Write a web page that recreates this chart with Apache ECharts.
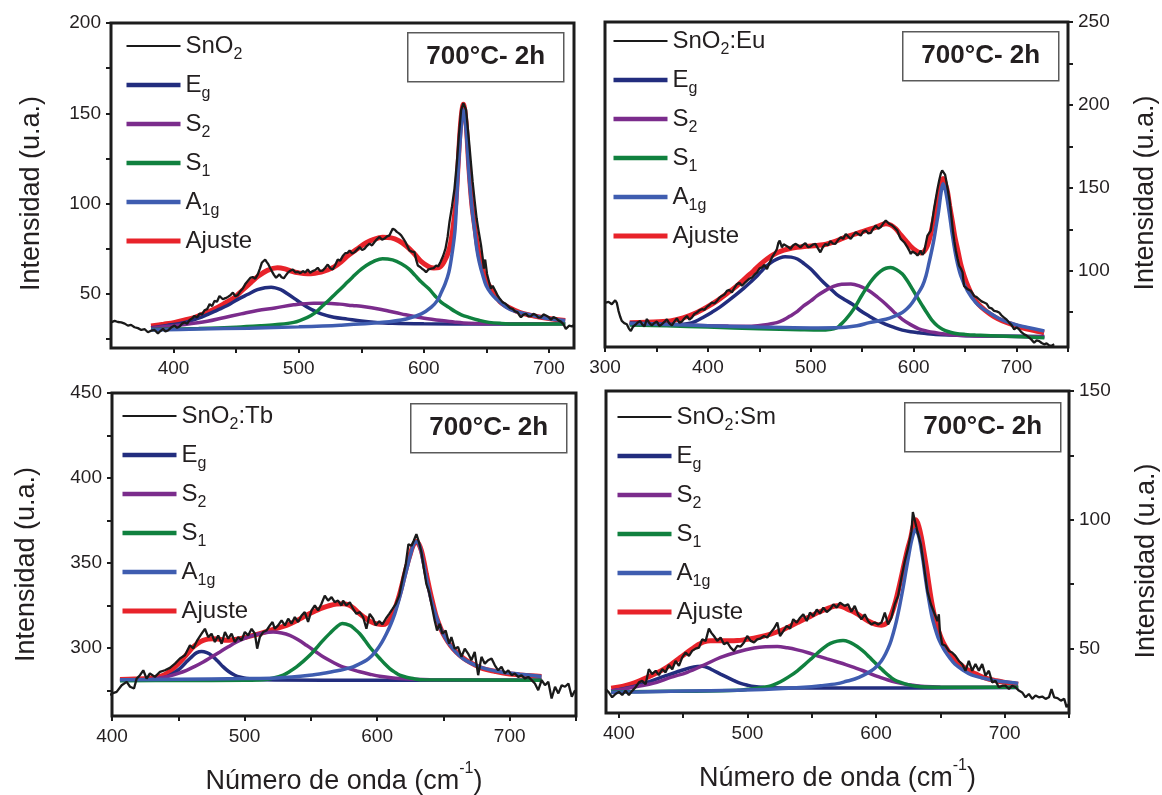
<!DOCTYPE html>
<html>
<head>
<meta charset="utf-8">
<script src="https://cdn.jsdelivr.net/npm/echarts@6/dist/echarts.min.js"></script>
<style>
  html, body { margin: 0; padding: 0; background: #ffffff; }
  #chart { width: 1162px; height: 795px; }
</style>
</head>
<body>
<div id="chart"></div>
<script>
// ---------- Raman spectra and peak deconvolution, 700 °C - 2 h ----------

// Series names
const sampleNames = ['SnO2', 'SnO2:Eu', 'SnO2:Tb', 'SnO2:Sm'];
const componentNames = ['Eg', 'S2', 'S1', 'A1g', 'Ajuste'];
const annotationText = '700°C- 2h';
const yTitle = 'Intensidad (u.a.)';
const xTitle = '{m|Número de onda (cm}{sup|-1}{m|)}';

// Axis tick labels / tick positions (cm-1 and u.a.)
const xLabelsP1 = [400, 500, 600, 700];
const xTicksP1 = [400, 450, 500, 550, 600, 650, 700];
const yLabelsP1 = [50, 100, 150, 200];
const yTicksP1 = [25, 50, 75, 100, 125, 150, 175, 200];

const xLabelsP2 = [300, 400, 500, 600, 700];
const xTicksP2 = [300, 350, 400, 450, 500, 550, 600, 650, 700, 750];
const yLabelsP2 = [100, 150, 200, 250];
const yTicksP2 = [75, 100, 125, 150, 175, 200, 225, 250];

const xLabelsP3 = [400, 500, 600, 700];
const xTicksP3 = [400, 450, 500, 550, 600, 650, 700, 750];
const yLabelsP3 = [300, 350, 400, 450];
const yTicksP3 = [275, 300, 325, 350, 375, 400, 425, 450];

const xLabelsP4 = [400, 500, 600, 700];
const xTicksP4 = [400, 450, 500, 550, 600, 650, 700, 750];
const yLabelsP4 = [50, 100, 150];
const yTicksP4 = [50, 75, 100, 125, 150];

// ---------- SnO2 ----------
const snO2Raw = [[350,34.2],[352.9,35],[355.5,34.4],[358.2,34.2],[361,33.5],[363.5,32.4],[366,32.8],[368.8,31.5],[371.5,31],[374.2,30],[377,30.4],[379.5,28.7],[382,29.6],[384.8,30],[387.5,28.1],[389.5,29.4],[391.5,30.6],[393.5,29.2],[395.5,29.7],[398,31.3],[400.8,32.4],[402.8,31.2],[404.8,31.9],[406.8,33.5],[408.8,34.2],[410.8,33.4],[412.8,35.5],[414.8,36.4],[416.8,37.8],[418.8,36.9],[420.8,39.1],[422.8,38.6],[424.7,40.9],[426.8,41.5],[428.8,44.3],[430.8,43.2],[432.7,46.1],[434.7,45.6],[436.7,48.8],[439.4,47],[441.4,47.6],[443.4,48.3],[445.4,49.2],[447.4,50.7],[449.4,48.6],[451.4,49.4],[453.4,51.5],[455.4,53],[457.3,55.4],[459.3,57.1],[461.3,58.8],[463.3,59.3],[465.3,58.4],[467.3,60.8],[469,64],[470.5,67.2],[471.8,68.2],[473.2,69],[474.5,67.6],[475.8,66.3],[477.2,64.3],[478.5,62.6],[480.2,60.5],[481.9,58.9],[483.3,59.7],[484.6,60.8],[486.3,59.2],[488.1,58.6],[489.7,60.2],[491.3,61.7],[493.3,62.8],[495.3,63.5],[497.3,61.9],[499.3,62.2],[501.3,61.4],[503.3,62.6],[505.2,61.8],[507.2,63.5],[509.2,61.7],[511.2,62.6],[513.2,63.2],[515.2,64.4],[517.2,62.7],[519.2,62.9],[521.2,64.5],[523.2,66.2],[525.2,64.2],[527.2,63.5],[529.2,66],[531.2,69],[533.2,68.4],[535.2,70.9],[537.2,72.5],[539.1,72.7],[540.7,74],[542.7,72.3],[544.7,73.1],[546.7,74.5],[548.7,75.9],[550.7,74.2],[552.6,75],[554.6,76.6],[556.6,77.8],[558.6,76.8],[560.6,78.7],[562.6,80.3],[564.6,81.5],[566.6,79.9],[568.6,80.6],[570.6,81.8],[572.6,82.4],[574,84.5],[575.2,86.1],[576.8,85.5],[578.4,84.3],[580.2,83.5],[581.9,82.4],[583.6,80.6],[585.3,78.7],[587,76.2],[588.5,74],[590.5,73.4],[592.5,73.1],[594,68.5],[595.2,65.7],[597,64.9],[598.6,63.9],[600.2,63.1],[601.8,62],[603.8,63.6],[605.8,63.9],[607.8,64.2],[609.8,65.7],[611.5,65.2],[613.3,67.6],[615.3,70.8],[617.3,75],[619,81.5],[620.5,89.8],[622.5,98.4],[624.5,108.3],[626.3,122],[628,137.9],[629.8,151.8],[631.6,155.6],[633.8,151.8],[635.1,142.1],[636.4,132.4],[637.7,122],[639,112],[640.6,101.5],[642.2,91.7],[644,83.8],[645.7,76.9],[647,70],[648,64],[649,69],[650.5,61],[652,57],[653.6,52.8],[655,54.5],[656.3,53.7],[657.6,51],[658.9,49.1],[660.9,47.1],[662.9,45.4],[664.9,44.7],[666.9,43.5],[668.9,42.1],[670.9,41.7],[672.9,40.3],[674.9,39.8],[676.2,38.3],[677.6,37],[679.6,38.5],[681.6,38.9],[683.6,37.5],[685.6,37.6],[687.6,38.9],[689.6,38.3],[691.6,36.8],[693.6,37],[695.6,38.6],[697.6,38],[699.6,37.2],[701.6,35.7],[703.6,37.1],[705.5,36.5],[707.5,35.3],[709.5,34.6],[711.5,33.2],[713.5,30.6],[715,31.5],[716.2,32.4],[718.4,31.9],[720,32.8]];
const snO2Eg = [[382,31.2],[395,32.5],[409,34.2],[420,36.5],[427,38.5],[435,41],[443,43.5],[451,46.8],[459,49.6],[467,52.3],[473,53.4],[478,53.7],[486,52.2],[491,50],[497,47.2],[502,44.8],[507,42.6],[513,40.4],[518,38.9],[528,37],[539,36],[550,35],[560,34.3],[575,33.7],[600,33.4],[650,33.3],[713,33.5]];
const snO2S2 = [[382,31],[395,32],[409,33],[427,34.8],[440,36.8],[454,38.9],[467,40.8],[481,42.2],[496,43.9],[512,44.8],[522,44.8],[533,44.3],[543,43.5],[550,43.1],[566,41.3],[582,38.9],[598,36.7],[614,35.2],[625,34.3],[636,33.7],[660,33.4],[713,33.4]];
const snO2S1 = [[382,30.3],[420,30.8],[450,31.5],[470,32.3],[481,32.9],[496,34.2],[507,37],[513,39.5],[518,42.6],[523,45.7],[528,49.1],[533,52.4],[539,56.5],[543,59.2],[548,62.5],[554,65.7],[560,68],[567,69.5],[575,68.8],[582,66.7],[588,63.8],[593,60.2],[598,56.5],[604,52.8],[609,48.8],[614,45.3],[620,42.5],[625,40.2],[630,38.4],[636,37],[644,35.4],[652,34.2],[662,33.6],[673,33.3],[713,33.3]];
const snO2A1g = [[382,30],[420,30.5],[460,31],[500,31.7],[533,32.6],[567,34.2],[586,36.1],[598,38.9],[606,42.6],[611,46.5],[614,50.9],[617,55.5],[620,62],[622.5,72],[625,86],[627.1,114],[629.8,142],[631.6,152],[633.6,142],[636.3,114],[638.5,97],[640.4,86.1],[642.3,75],[644.3,67.6],[647,60.5],[649.8,54.6],[653.5,50.5],[657.8,47.2],[665.8,42.6],[673,40.3],[681.7,38.9],[697.7,36.5],[713,35.2]];
const snO2Fit = [[382,32.2],[392,33.2],[401,34.2],[409,35.5],[417,37],[425,39.2],[433,41.7],[441,44.8],[449,48.1],[455,52],[462,56.4],[468,60],[475,63],[483,64.4],[489,63.8],[494,62.6],[500,61.6],[507,61.1],[513,61.4],[518,62],[523,63.2],[528,64.8],[534,67.8],[540,71.5],[547,75],[554,78.3],[560,80.2],[567,81.3],[574,81],[580,79.4],[586,76.5],[592,72.5],[598,67.8],[604,65],[608,64.3],[612,64.5],[616,67.5],[620,74],[623,85],[625.5,100],[627.5,123],[629.5,145],[631.6,155],[633.7,145],[636,120],[638.3,100],[640.5,88],[643,76],[646,66],[650,57.5],[655,51.5],[661,45.5],[668,42.4],[677,39.6],[688,37.7],[700,36.3],[713,35.2]];

// ---------- SnO2:Eu ----------
const euRaw = [[300.7,80.8],[303.5,81.2],[306.6,79.8],[308.5,81],[309.9,82.2],[311.5,80.6],[313.1,75.8],[314.7,72.4],[316.3,69.7],[318.7,68.4],[321.2,67.7],[323.2,65.1],[325.1,63.6],[327.2,66.2],[329.4,67.3],[331.8,68.8],[334.2,69.7],[336.3,67.4],[338.4,66.5],[340.7,70.9],[343.1,68.4],[345.5,67],[348,68.5],[350.4,69.3],[352.8,66.7],[355.3,67.7],[357.7,69.1],[360.1,70.7],[362.5,68.3],[365,67],[367.4,69.3],[369.8,71.3],[372.2,68.7],[374.7,69.3],[377.1,71.2],[379.6,72.7],[382,70.5],[384.4,71.7],[386.8,73.9],[389.3,74.8],[391.7,76.1],[394.2,76.8],[396.6,76.4],[399,78.2],[401.5,79.3],[403.9,80.8],[406.3,80.2],[408.8,81.8],[411.2,83.7],[413.6,84.8],[416,85.6],[418.5,87.9],[420.9,88.4],[423.3,86.9],[425.8,89.7],[428.2,91.9],[430.6,92.8],[433.1,90.9],[435.5,92.5],[437.9,93.9],[440.3,95.2],[442.8,95.9],[445.2,97.6],[447.7,99],[450.1,101.3],[452.5,102],[455,103.5],[457.4,101],[459.8,104.6],[462.3,108],[464.7,110.4],[467.1,113.1],[468.5,116.8],[469.8,118.2],[471,115.9],[472,114.1],[473.6,116],[475.3,117.2],[477.7,114.5],[480.2,113.1],[482.6,115.2],[485,116.2],[487.5,115.3],[489.9,114.1],[492.3,115.6],[494.7,116.6],[497.2,114.3],[499.6,114.6],[502,115.8],[504.5,116.2],[507,113.5],[509.3,111.1],[511.8,114.3],[514.2,116.2],[516.6,115.3],[519.1,117.8],[521.5,116.4],[523.9,116.2],[526.5,118.5],[529.1,120.2],[531.5,119.2],[534,122.2],[536.4,120.6],[538.8,119.2],[541.3,121.4],[543.7,123.2],[546.1,122.1],[548.5,121.2],[551,123.6],[553.4,124.2],[555.9,122.5],[558.3,122.8],[560.7,125.4],[563.1,127.3],[565.6,125.2],[568,126.3],[570.5,128.6],[572.9,130.3],[574.5,129.5],[576.1,128.3],[578.5,127.6],[581,126.3],[582.6,125.1],[584.2,124.2],[585.9,121.3],[587.5,119.2],[589.1,118.6],[590.7,117.2],[592.3,115.8],[594,114.1],[595.6,112.3],[597.2,110.1],[598.8,111.6],[600.4,112.1],[602,110.4],[603.7,109.1],[605.3,110.5],[606.9,112.1],[608.5,109.6],[610.1,111.1],[611.8,116.5],[613.4,121.2],[615,122.4],[616.6,124.2],[618.2,130.5],[619.8,137.4],[621.5,143.5],[623.2,149.5],[624.8,154.4],[626.4,158.6],[627.7,160.5],[629,161.6],[630.5,158],[631.9,153.5],[633.5,147.6],[635.1,141.4],[636.7,132.5],[638.3,123.2],[639.6,117.5],[641,112.1],[642.6,107.4],[644.2,103],[645.9,101.3],[647.5,99],[648.2,95],[649,90.9],[650.6,90.3],[652.3,88.9],[653.9,88.6],[655.5,87.9],[657.1,86.5],[658.8,84.8],[661.2,84.1],[663.6,82.8],[666,81.5],[668.5,80.8],[670.9,80.1],[673.3,77.8],[675.8,77.3],[678.2,75.8],[680.6,75.5],[683.1,74.8],[685.5,73],[687.9,71.7],[690.4,70.5],[692.8,68.7],[695.2,67.2],[697.7,64.6],[700.1,65.8],[702.5,64.6],[705,62.8],[707.4,61.6],[709.8,60.9],[712.3,59.6],[714.7,58.3],[717.1,56.6],[719.5,58],[722,57.6],[724.4,56.4],[726.8,55.6],[729.2,56.2],[731.7,55],[734.1,54.7],[736.6,55.6]];
const euEg = [[324,68.4],[350,67.8],[372,67.6],[380,68],[388,69.5],[396,72.1],[404,75],[412,78.2],[420,82],[428,85.9],[435,89.5],[441,92.9],[448,97],[454,101],[459,103.8],[464,106],[470,107.8],[475,108.5],[481,108.2],[487,107.1],[493,104.5],[500,101],[506,97.1],[512.5,92.9],[519,89.2],[525,85.8],[533,82.5],[540.5,79.8],[548,76],[556.6,72.7],[565,69.8],[573,67.7],[581,65.8],[589,64.2],[597,63.2],[605,62.6],[621.5,61.5],[654,60.8],[690,60.5],[727,60.3]];
const euS2 = [[324,68],[380,67.2],[420,66.6],[440,66.5],[454,67.3],[467,68.7],[474,70.5],[480,72.7],[487,75.5],[493,78.8],[500,81.8],[506,84.8],[514,88],[522,90.5],[530,91.8],[539,92],[547,90.8],[556.6,87.9],[565,84],[573,79.8],[581,75],[589,70.7],[597,67.5],[605,65],[613,63.6],[621.5,62.6],[630,61.8],[638,61.2],[660,60.7],[727,60.1]];
const euS1 = [[324,67.3],[360,66.8],[400,66],[450,65],[490,64.4],[510,64.2],[518,64.5],[525,65.5],[529,67.5],[534,70.7],[539,74.5],[543.7,78.8],[548.5,84],[553.4,88.9],[558,93.2],[563,97],[568,99.8],[573,101.5],[577.7,102],[583,100.8],[589,98],[594,93.8],[598.8,88.9],[603.7,83.8],[608.6,78.8],[613.5,74],[618.3,69.7],[623,66.8],[628,64.7],[634,63.2],[641,62.2],[650,61.6],[660,61.2],[690,60.5],[727,59.6]];
const euA1g = [[324,68.2],[360,67.6],[400,66.8],[450,66],[500,65.5],[524,65.6],[545,66.8],[557,68.7],[573,70.7],[581,72.4],[589,74.8],[594,77.3],[598.8,80.8],[604,86],[608.6,90.9],[612,97],[615,105],[617.5,112],[619.8,119.2],[622,127.5],[624.1,135.3],[626.7,147.5],[628.6,152.5],[631.2,147.5],[634.5,135.3],[637.7,121.2],[641.6,107.1],[645.8,97],[652.3,87.9],[660.4,80.8],[666.5,77.5],[673.3,74.8],[682,71.5],[692.8,68.7],[702,67],[712.2,65.6],[727,63.6]];
const euFit = [[324,68.7],[340,69],[363.4,69.7],[376,71.5],[389.3,74.8],[399,78],[408.8,81.8],[418,86],[428.2,90.9],[436,95.3],[444.5,100],[451,103.8],[457.4,107.1],[464,109.8],[470.4,111.7],[478,113.1],[486.6,114.1],[496,114.7],[506,115.2],[515,116],[525,118],[534,120.3],[543.7,122.2],[553,124.2],[563.1,126.2],[572.9,128.3],[578,127.5],[582.6,125.3],[587,122],[592.3,118.2],[597,114.8],[602.1,112.1],[606.9,110.7],[610,111.5],[613.4,115.2],[616,120.5],[618.3,127.3],[620.8,135],[623.2,143.5],[626,151.5],[628.6,155.6],[631,152],[632.9,147.5],[635,139],[637.7,129.3],[640,120.5],[642.6,113.1],[645.5,104.5],[649,97],[653,90.3],[657.2,84.8],[663,79.8],[670.1,75.8],[678,72.3],[686.4,69.7],[696,67.5],[705.8,65.6],[715,64.2],[726.8,62.6]];

// ---------- SnO2:Tb ----------
const tbRaw = [[398.5,272.3],[400.2,273.3],[403.5,274.2],[405,275.2],[407.3,278.1],[411.1,280.1],[413.6,277.2],[416.6,276.2],[418.6,282],[421.1,284],[423.6,286.9],[426.1,282],[428.6,285],[432.4,283],[436.2,286],[439.9,286.9],[443.7,288.3],[447.5,290.8],[451.2,293.8],[455,295.7],[458.8,301.6],[461.3,299.7],[464.3,304.5],[467.6,308.4],[470.1,311.3],[472.6,306.4],[475.1,308.4],[477.6,303.5],[480.1,307.4],[482.7,302.5],[485.2,309.4],[487.7,305.5],[490.2,308.4],[492.7,303.5],[495.2,306.4],[497.7,304.5],[500.2,309.4],[502.7,307.4],[505.3,311.3],[507.8,308.4],[509.5,299.6],[511.5,306.4],[514,309.4],[516.6,310.3],[519.1,313.3],[521.1,315.3],[522.8,311.3],[525.3,313.3],[527.9,316.2],[530.4,313.3],[532.9,317.2],[535.4,314.3],[537.9,318.2],[540.4,315.3],[543,319.1],[545.4,321.1],[547.9,315.3],[550.5,322.1],[553,325],[555.5,322.1],[558,326],[560.5,330.8],[563,327.9],[565.6,329.9],[568,327],[570.5,327.9],[573.1,325],[574.3,327.9],[576.8,325],[579.4,326.9],[581.9,323],[584.4,320.1],[586.9,321.1],[589.4,318.2],[591.9,311.3],[594.4,320.1],[597,317.2],[599,313.3],[601.5,315.8],[604,313.9],[606.5,317.2],[609.1,320.1],[611.6,323],[614.1,326],[616.6,330.8],[619.1,340.6],[621.6,349.4],[623.6,361.1],[625.9,360.1],[627.6,363.1],[629.6,367],[631.6,362.1],[633.4,356.3],[635.1,347.5],[637.1,337.7],[639.2,332.8],[640.9,326],[643.4,316.2],[645.2,310.3],[647.2,314.3],[649.2,308.4],[651.7,310.3],[654.3,302.5],[656,306.4],[658.5,299.6],[661,300.6],[663.6,294.8],[666.1,299.6],[668.6,296.7],[671.1,292.8],[673.6,297.7],[676.2,284],[678.7,294.8],[681.2,290.8],[683.7,292.8],[686.3,293.8],[688.8,289.8],[691.3,286.9],[693.8,288.9],[696.3,285],[698.9,286.9],[701.4,284],[703.9,285],[706.4,283],[708.9,284],[711.5,282],[714,283],[716.5,281.1],[719,279.1],[721.5,275.2],[724.1,281.1],[726.6,278.1],[729.1,280.1],[731.6,270.3],[734.2,277.2],[736.7,273.3],[739.2,278.1],[741.7,277.2],[744.3,279.1],[746.8,271.3],[749.3,275.2]];
const tbEg = [[406,281.3],[428.6,281.3],[435,282],[441.2,283],[446,285],[451.2,287.9],[455.5,291.3],[460.1,294.8],[464,297.3],[467.6,298],[471.5,297.3],[475.1,295.7],[479.5,292.5],[483.9,288.9],[488,286.2],[492.7,284],[497,282.8],[501.5,282],[514,281.3],[560,281.1],[724,281.1]];
const tbS2 = [[406,281],[428.6,281.3],[436,282.3],[443.7,283.6],[450,285.1],[456.3,286.9],[462.5,289.2],[468.8,291.8],[475,294.7],[481.4,297.7],[487.7,300.7],[494,303.5],[500,305.6],[506.5,307.4],[514,308.8],[521.6,309.4],[528,308.8],[534.1,307.4],[540.4,304.8],[546.7,301.6],[553,298.2],[559.2,294.8],[566.7,291.6],[573,289.2],[579.4,287.8],[586.9,286],[594.4,284.6],[602,283.4],[617,282],[640,281.3],[724,281.1]];
const tbS1 = [[406,280.8],[450,280.9],[500,281],[514,281.3],[521,282.2],[529.1,284],[534,286.2],[539.2,288.9],[544,292],[549.2,295.7],[554.2,300],[559.2,304.5],[564.3,308.6],[569.3,312.3],[573.7,314.4],[579.4,313.3],[583,311.2],[586.9,308.4],[590.7,304.6],[594.4,300.6],[598.2,297.1],[602,293.8],[605.7,290.7],[609.5,287.9],[613.2,285.8],[617,284],[622,282.8],[627.1,282],[635,281.3],[724,281.1]];
const tbA1g = [[406,281.3],[450,281.6],[500,282],[524,282.4],[549,284],[562,285.5],[571.8,286.9],[581.8,288.9],[587,290.8],[591.9,292.8],[596,295.5],[599.5,298.6],[603.3,303],[607,308.4],[610.3,314],[613.3,320.1],[615.2,325],[617,329.9],[619,335.7],[620.8,341.6],[622.8,347.7],[624.6,353.3],[626.1,357.5],[627.6,361.1],[629.6,362.5],[632.1,360.1],[634.6,351.3],[637.6,339.6],[640.9,327.9],[644.7,318.2],[649.7,308.4],[656,300.6],[664.7,293.8],[677.3,288.9],[692.4,286],[707.5,284.6],[724,283.3]];
const tbFit = [[406,281.5],[417,281.7],[428.6,282.2],[433.6,282.9],[438.7,284],[442.5,285.7],[446.2,287.9],[450,290.7],[453.7,293.8],[457.5,297.3],[461.3,300.6],[465,302.9],[468.8,304.5],[472.5,305.3],[476.3,305.5],[481.4,305.1],[486.4,304.6],[491.5,304.9],[496.5,305.5],[501.5,306.4],[506.5,307.4],[512.8,308.8],[519.1,310.3],[525.4,311.8],[531.6,313.3],[538,315.6],[544.2,318.2],[549.2,320.3],[554.3,322.1],[559.3,323.7],[564.3,325],[569.3,325.8],[574.3,326],[579.4,325],[583.1,322.8],[586.9,320.1],[590.7,317.9],[594.4,315.8],[598.2,314.5],[602,313.9],[604.5,313.8],[607,314.6],[609.5,316.8],[612,320.1],[614.5,325.5],[617,331.8],[619.5,339.5],[622.1,347.5],[624.6,354.2],[627.1,360.1],[629.6,362.7],[631.5,361],[633.4,357.2],[635.3,350.8],[637.1,343.6],[639,336.6],[640.9,329.9],[642.8,323.8],[644.7,318.2],[647.2,313],[649.7,308.4],[653.4,303.6],[657.2,299.6],[662.2,295.8],[667.3,292.8],[673.5,290.1],[679.8,287.9],[688.6,286.3],[697.4,285],[710,284],[724,283.3]];

// ---------- SnO2:Sm ----------
const smRaw = [[389.7,34.3],[392.2,33],[394.8,31.1],[397.4,32.4],[400,33.2],[402.6,32],[405.2,33.6],[407.8,32],[410.4,33.6],[413,35],[415.6,36.9],[418.1,37.5],[420.8,36.2],[423.3,42],[425.9,40.1],[428.6,41.4],[431.1,39.7],[433.7,42],[436.3,40.8],[438.9,43.6],[441.5,42],[444.1,45.2],[446.7,43.3],[449.3,46.6],[451.9,48.5],[454.5,47.2],[457,49.1],[459.7,50],[462.3,50.4],[464.8,53.6],[467.5,53],[470,57.8],[471.8,56.2],[473.9,54.9],[476.5,53],[479.1,54.3],[481.7,51.7],[484.3,52.4],[486.9,50.4],[489.5,49.1],[492.1,51.1],[494.7,50.8],[497.3,52.4],[499.8,54.9],[502.5,53],[505.1,52.4],[507.6,53.6],[510.3,54],[512.8,54.9],[515.4,54.3],[518,56.2],[520.6,57.8],[523.2,60.1],[525.3,54.9],[527.9,56.8],[530.5,58.8],[533.1,57.8],[535.6,61.4],[538.3,60.1],[540.9,62],[543.4,63.3],[546.1,60.7],[548.6,64],[551.2,62.6],[553.9,65.2],[556.4,63.6],[559,65.9],[561.6,64.2],[564.2,65.2],[566.8,67.2],[569.4,65.9],[572,67.8],[575.6,66.6],[578.2,67.2],[580.8,64.3],[583.4,66.6],[586,63.3],[588.6,61.4],[591.2,63.3],[593.8,60.7],[596.3,59.4],[599,60.1],[601.6,59.4],[604.2,60.1],[606.8,64],[609.3,59.4],[611.9,62],[614.5,67.2],[617.1,70.4],[619.7,77.5],[622.3,83.9],[624.9,89.1],[627.5,95.5],[628.6,103],[630,100],[632.1,95.5],[634.8,90.4],[637.4,81.3],[639.9,72.3],[642.6,67.2],[645.1,64],[647.7,60.7],[648.8,63.3],[649.6,56.8],[651.4,51.7],[654,51.1],[656.6,49.1],[659.1,48.5],[661.7,47.2],[664.4,45.2],[666.9,44],[669.5,41.4],[672.1,45.2],[674.7,41.4],[677.3,44],[679.9,41.4],[682.5,44],[685.1,39.5],[687.7,41.4],[690.3,36.9],[692.8,37.5],[695.5,35],[698.1,35.6],[700.6,35.6],[703.3,34.3],[705.8,35.6],[708.4,35],[711,33.7],[713.6,33],[716.2,31.1],[718.8,32.4],[721.4,30.5],[724,31.8],[726.6,31.1],[729.2,31.4],[731.8,30.5],[734.4,31.1],[736.4,34.3],[738.5,31.1],[741.1,30.8],[743.7,29.8],[746.3,30.5],[748.1,27.3],[750,28.5]];
const smEg = [[394,33.5],[409.1,35],[422,36.9],[435,39.2],[448,41.4],[458.4,42.9],[464.8,43.1],[469,42.6],[473.9,41.4],[479,40.1],[484.3,38.8],[489.5,37.6],[494.7,36.5],[500,35.8],[505.1,35.3],[518,34.8],[540,34.7],[600,34.7],[710.5,34.9]];
const smS2 = [[394,33.6],[403.9,34.3],[414.2,35.3],[427.2,36.6],[440.2,38.8],[453.2,40.8],[466.1,43.6],[479.1,46.6],[492.1,48.7],[505.1,50.2],[514,50.7],[523.2,50.8],[531,50.3],[538.8,49.5],[546.5,48.5],[554.3,47.2],[562,46],[570,44.8],[577,43.7],[583.4,42.6],[590,41.4],[596.3,40.1],[602.8,38.9],[609.3,37.8],[615.8,36.9],[622.3,36.2],[630,35.7],[637.9,35.3],[650,35.1],[710.5,35]];
const smS1 = [[394,33.2],[440,33.4],[480,33.6],[492.1,33.8],[500,34.2],[507.6,34.6],[513,35],[518,35.5],[523,36.5],[528.4,37.9],[533.5,39.5],[538.8,41.4],[544,43.6],[549.2,45.9],[554.3,48.2],[559.5,50.4],[564.5,52],[569.9,52.9],[574.3,53.1],[578.8,52.6],[583.4,51.4],[587.3,50.1],[591.2,48.5],[595,46.6],[599,44.6],[602.9,42.7],[606.8,40.8],[610.6,39.2],[614.5,37.8],[619.7,36.8],[624.9,36],[631,35.4],[637.9,35.1],[660,35],[710.5,35]];
const smA1g = [[394,33],[414.2,33.2],[450,33.5],[492.1,33.8],[520,34.3],[544,35],[557,35.6],[569.9,36.4],[576.9,37.3],[583.4,38.2],[590,39.6],[596.3,41.4],[600.2,43],[604.1,45.2],[607.4,48],[610.7,51.7],[613.2,55.7],[615.8,60.7],[618.4,66.8],[621,73.6],[623.2,80],[625.5,86.5],[627.2,91],[628.8,94.2],[630.6,96.2],[631.9,95.3],[633.2,93.6],[634.9,89.2],[636.6,83.9],[638.2,78],[639.9,72.3],[641.8,66.8],[643.6,62],[645.9,57.8],[648.2,54.3],[650.8,51.5],[653.4,49.1],[657.3,46.4],[661.2,44],[667.7,41.6],[674.2,39.8],[681.9,38.7],[689.7,37.8],[700,37.1],[710.5,36.5]];
const smFit = [[394,34.6],[402.6,35.3],[409.1,36.2],[415.6,37.4],[422,38.8],[428.5,40.3],[435,42],[441.5,44.2],[448,46.6],[453.2,48.6],[458.4,50.4],[462.3,51.7],[466.1,52.6],[471.3,53],[476.5,53],[481.7,53],[486.9,53],[492.1,53.1],[497.3,53.4],[502.5,53.8],[507.6,54.3],[512.8,54.9],[518,55.6],[523.2,56.5],[528.4,57.5],[533.6,58.8],[538.8,60.1],[544,61.4],[549.2,62.6],[554.3,63.9],[559.5,65],[564.7,66],[569.9,66.6],[574.1,66.2],[578.2,65.2],[582.1,64.4],[586,63.3],[589.9,62],[593.8,60.7],[597.7,59.8],[601.6,59.2],[604.2,59.1],[606.8,59.4],[609.4,60.7],[611.9,63.3],[614.5,67.2],[617.1,72.3],[619.7,78],[622.3,83.9],[624.6,88.8],[626.9,92.9],[628.8,97.5],[631,100],[633.2,97.5],[635.3,92.9],[637.2,87.4],[639.2,81.3],[641.1,74.8],[643.1,68.4],[645,63.6],[647,59.4],[649.5,55.6],[652.1,52.4],[655.9,49.2],[659.9,46.6],[664.8,44.2],[670.3,42],[677.5,40.2],[684.6,38.6],[692.4,37.6],[700.2,36.9],[710.5,36.2]];

// ---------- styling ----------
const FONT = '"Liberation Sans", Arial, Helvetica, sans-serif';
const INK = '#231f20';
const FRAME = '#1c1c1c';
const colors = { raw: '#1a1a1a', Eg: '#222d7e', S2: '#7b2c8c', S1: '#10813f', A1g: '#3f5db0', Ajuste: '#e8232a' };

// legend labels with subscripts (every entry carries a subscript slot so rows share one height)
const legendText = {
  'SnO2': '{m|SnO}{s|2}',
  'SnO2:Eu': '{m|SnO}{s|2}{m|:Eu}',
  'SnO2:Tb': '{m|SnO}{s|2}{m|:Tb}',
  'SnO2:Sm': '{m|SnO}{s|2}{m|:Sm}',
  'Eg': '{m|E}{s|g}',
  'S2': '{m|S}{s|2}',
  'S1': '{m|S}{s|1}',
  'A1g': '{m|A}{s|1g}',
  'Ajuste': '{m|Ajuste}{s| }'
};

// panel layout (pixels) and axis settings
const panels = [
  { sample: sampleNames[0], data: [snO2Raw, snO2Eg, snO2S2, snO2S1, snO2A1g, snO2Fit],
    grid: { left: 111, top: 23, width: 463, height: 325 },
    x: { min: 350, max: 720, labels: xLabelsP1, ticks: xTicksP1, title: false },
    y: { min: 20, max: 200, labels: yLabelsP1, ticks: yTicksP1, pos: 'left', gap: 66, shift: 16 },
    legend: { left: 124, top: 29 }, box: { x: 407, y: 32, w: 156, h: 49 } },
  { sample: sampleNames[1], data: [euRaw, euEg, euS2, euS1, euA1g, euFit],
    grid: { left: 605, top: 22, width: 463, height: 325 },
    x: { min: 300, max: 750, labels: xLabelsP2, ticks: xTicksP2, title: false },
    y: { min: 54, max: 250, labels: yLabelsP2, ticks: yTicksP2, pos: 'right', gap: 64, shift: 17 },
    legend: { left: 611, top: 24 }, box: { x: 902, y: 31, w: 156, h: 49 } },
  { sample: sampleNames[2], data: [tbRaw, tbEg, tbS2, tbS1, tbA1g, tbFit],
    grid: { left: 112, top: 393, width: 464, height: 323 },
    x: { min: 400, max: 750, labels: xLabelsP3, ticks: xTicksP3, title: true },
    y: { min: 260, max: 450, labels: yLabelsP3, ticks: yTicksP3, pos: 'left', gap: 72, shift: 20 },
    legend: { left: 120, top: 399 }, box: { x: 410, y: 403, w: 156, h: 49 } },
  { sample: sampleNames[3], data: [smRaw, smEg, smS2, smS1, smA1g, smFit],
    grid: { left: 606, top: 391, width: 463, height: 322 },
    x: { min: 390, max: 750, labels: xLabelsP4, ticks: xTicksP4, title: true },
    y: { min: 25, max: 150, labels: yLabelsP4, ticks: yTicksP4, pos: 'right', gap: 64, shift: 18 },
    legend: { left: 615, top: 400 }, box: { x: 904, y: 402, w: 156, h: 49 } }
];

const option = {
  animation: false,
  backgroundColor: '#ffffff',
  textStyle: { fontFamily: FONT },
  grid: [], xAxis: [], yAxis: [], series: [], legend: [], graphic: []
};

panels.forEach((p, i) => {
  option.grid.push(Object.assign({
    show: true, borderColor: FRAME, borderWidth: 3, backgroundColor: 'transparent',
    containLabel: false, outerBoundsMode: 'none'
  }, p.grid));

  option.xAxis.push({
    type: 'value', gridIndex: i, min: p.x.min, max: p.x.max,
    splitLine: { show: false }, axisLine: { show: false },
    axisTick: { show: true, customValues: p.x.ticks, length: 5, lineStyle: { color: FRAME, width: 2 } },
    axisLabel: { customValues: p.x.labels, margin: 11, fontSize: 19, color: INK, fontFamily: FONT },
    name: p.x.title ? xTitle : '', nameLocation: 'middle', nameGap: 45,
    nameTextStyle: {
      fontFamily: FONT, color: INK,
      rich: {
        m: { fontSize: 27, lineHeight: 42, fontFamily: FONT, color: INK },
        sup: { fontSize: 16, lineHeight: 16, padding: [0, 0, 26, 0], fontFamily: FONT, color: INK }
      }
    }
  });

  option.yAxis.push({
    type: 'value', gridIndex: i, min: p.y.min, max: p.y.max, position: p.y.pos,
    splitLine: { show: false }, axisLine: { show: false },
    axisTick: { show: true, customValues: p.y.ticks, length: 5, lineStyle: { color: FRAME, width: 2 } },
    axisLabel: { customValues: p.y.labels, margin: 10, fontSize: 19, color: INK, fontFamily: FONT },
    name: yTitle, nameLocation: 'middle', nameRotate: 90, nameGap: p.y.gap,
    nameTextStyle: { fontSize: 27, color: INK, fontFamily: FONT, padding: [0, p.y.shift, 0, 0] }
  });

  const names = [p.sample].concat(componentNames.slice(0, 4));
  const styleKeys = ['raw', 'Eg', 'S2', 'S1', 'A1g'];
  // fitted envelope first (underneath), then the components, then the measured spectrum
  option.series.push({
    type: 'line', name: 'Ajuste', xAxisIndex: i, yAxisIndex: i, data: p.data[5],
    symbol: 'none', showSymbol: false, smooth: 0.35, z: 2,
    lineStyle: { color: colors.Ajuste, width: 5 }, itemStyle: { color: colors.Ajuste }
  });
  for (let k = 1; k <= 4; k++) {
    option.series.push({
      type: 'line', name: names[k], xAxisIndex: i, yAxisIndex: i, data: p.data[k],
      symbol: 'none', showSymbol: false, smooth: 0.35, z: 3,
      lineStyle: { color: colors[styleKeys[k]], width: 3.5 }, itemStyle: { color: colors[styleKeys[k]] }
    });
  }
  option.series.push({
    type: 'line', name: p.sample, xAxisIndex: i, yAxisIndex: i, data: p.data[0],
    symbol: 'none', showSymbol: false, z: 4,
    lineStyle: { color: colors.raw, width: 2.3 }, itemStyle: { color: colors.raw }
  });

  option.legend.push({
    orient: 'vertical', left: p.legend.left, top: p.legend.top, padding: 0,
    itemWidth: 54, itemHeight: 14, itemGap: 5, selectedMode: false,
    itemStyle: { opacity: 0 },
    data: [
      { name: p.sample, lineStyle: { width: 2, color: colors.raw } },
      { name: 'Eg', lineStyle: { width: 4.5, color: colors.Eg } },
      { name: 'S2', lineStyle: { width: 4.5, color: colors.S2 } },
      { name: 'S1', lineStyle: { width: 4.5, color: colors.S1 } },
      { name: 'A1g', lineStyle: { width: 4.5, color: colors.A1g } },
      { name: 'Ajuste', lineStyle: { width: 5, color: colors.Ajuste } }
    ],
    formatter: (name) => legendText[name] || name,
    textStyle: {
      fontFamily: FONT, color: INK,
      rich: {
        m: { fontSize: 24, lineHeight: 34, fontFamily: FONT, color: INK },
        s: { fontSize: 16, lineHeight: 16, padding: [18, 0, 0, 0], fontFamily: FONT, color: INK }
      }
    }
  });

  option.graphic.push({
    type: 'group', left: p.box.x, top: p.box.y,
    children: [
      { type: 'rect', shape: { x: 0, y: 0, width: p.box.w, height: p.box.h },
        style: { fill: '#ffffff', stroke: '#5a5a5a', lineWidth: 1.5 } },
      { type: 'text', x: p.box.w / 2, y: p.box.h / 2,
        style: { text: annotationText, font: 'bold 26px ' + FONT, fill: INK,
                 align: 'center', verticalAlign: 'middle', textAlign: 'center', textVerticalAlign: 'middle' } }
    ]
  });
});

const chart = echarts.init(document.getElementById('chart'), null, { renderer: 'canvas' });
chart.setOption(option);
</script>
</body>
</html>
